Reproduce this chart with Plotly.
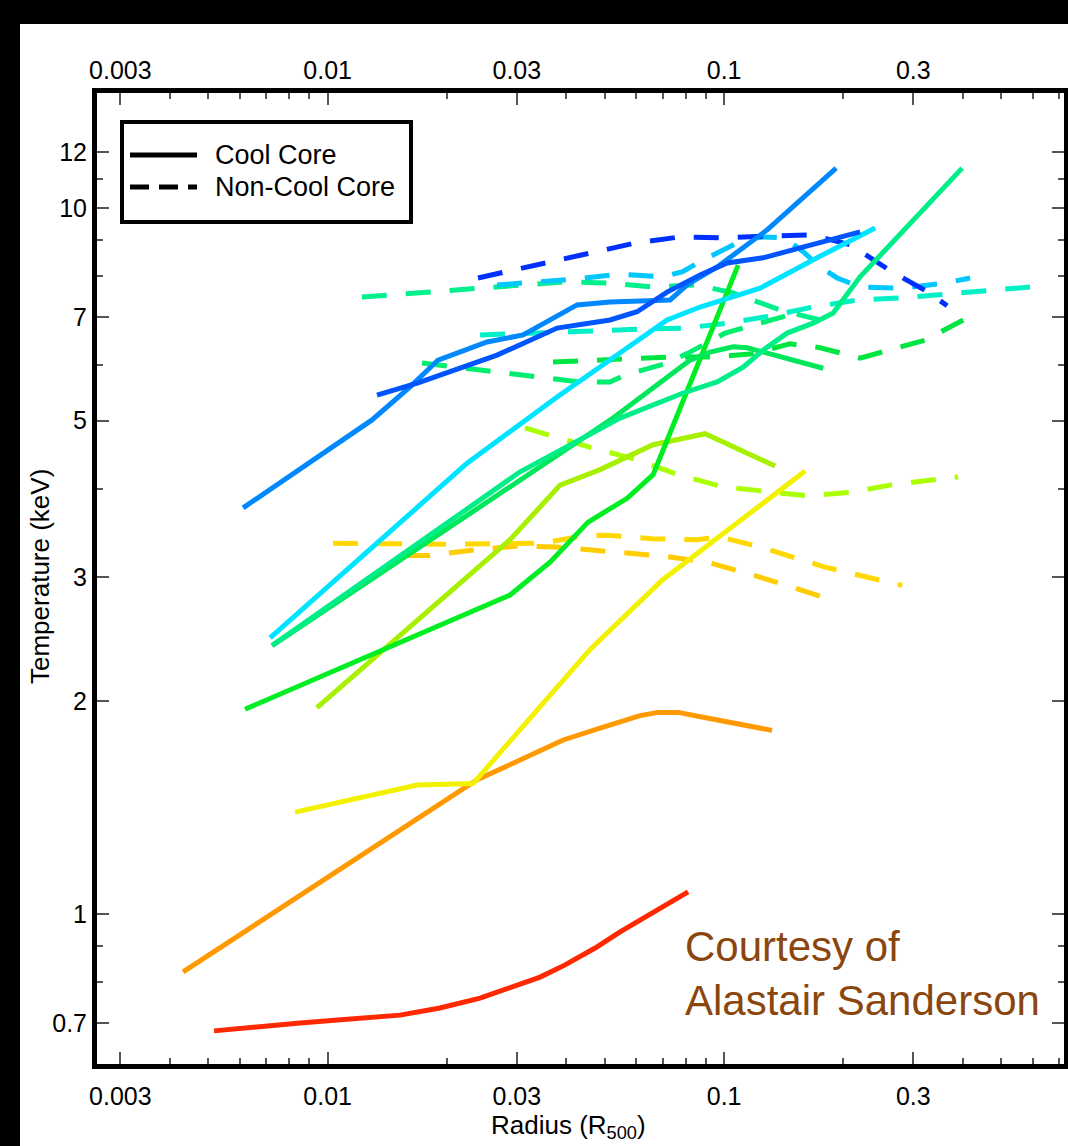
import plotly.graph_objects as go

# ---------------- data (radius in R500, temperature in keV) ----------------
red_x = [0.00517, 0.00852, 0.01523, 0.0192, 0.02424, 0.02971, 0.03435, 0.03972, 0.04727, 0.05466, 0.06506, 0.08114]
red_y = [0.683, 0.701, 0.719, 0.736, 0.760, 0.791, 0.814, 0.847, 0.895, 0.943, 1.0, 1.075]

orange_x = [0.00432, 0.02382, 0.03059, 0.03926, 0.04866, 0.06139, 0.06816, 0.07656, 0.0906, 0.1321]
orange_y = [0.828, 1.55, 1.652, 1.764, 1.834, 1.91, 1.93, 1.93, 1.895, 1.82]

yellow_x = [0.00828, 0.01683, 0.02327, 0.04592, 0.06977, 0.1601]
yellow_y = [1.394, 1.523, 1.53, 2.37, 2.97, 4.24]

ygreen_x = [0.0094, 0.02885, 0.03858, 0.04866, 0.06621, 0.08956, 0.1345]
ygreen_y = [1.96, 3.39, 4.05, 4.26, 4.62, 4.79, 4.31]

green_x = [0.00619, 0.02885, 0.03639, 0.04539, 0.05693, 0.06621, 0.1085]
green_y = [1.95, 2.83, 3.15, 3.59, 3.88, 4.19, 8.30]

g1_x = [0.00724, 0.05248, 0.08213, 0.0922, 0.1054, 0.1143, 0.1284, 0.1778]
g1_y = [2.40, 5.04, 6.09, 6.25, 6.36, 6.34, 6.23, 5.93]

g2_x = [0.00724, 0.03059, 0.05466, 0.07882, 0.09602, 0.1117, 0.1254, 0.1442, 0.1677, 0.1884, 0.2203, 0.2376, 0.2895, 0.3985]
g2_y = [2.40, 4.23, 5.04, 5.47, 5.67, 5.95, 6.29, 6.65, 6.87, 7.10, 7.99, 8.36, 9.40, 11.39]

cyan_x = [0.00716, 0.02247, 0.03791, 0.05157, 0.0718, 0.087, 0.1233, 0.1717, 0.2404]
cyan_y = [2.46, 4.35, 5.40, 6.09, 6.94, 7.24, 7.70, 8.50, 9.37]

lblue_x = [0.00612, 0.01294, 0.01614, 0.01899, 0.02524, 0.03112, 0.04258, 0.05157, 0.07309, 0.08067, 0.09602, 0.1284, 0.1917]
lblue_y = [3.76, 5.01, 5.58, 6.09, 6.46, 6.61, 7.29, 7.36, 7.41, 7.78, 8.25, 9.31, 11.39]

blue_x = [0.01332, 0.01683, 0.02675, 0.03791, 0.05157, 0.06033, 0.0718, 0.087, 0.1018, 0.1254, 0.1555, 0.2203]
blue_y = [5.43, 5.65, 6.19, 6.76, 6.94, 7.13, 7.60, 8.04, 8.36, 8.50, 8.78, 9.25]

# non-cool-core (dashed)
d1_x = [0.02395, 0.03597, 0.04645, 0.05964, 0.07745, 0.09943, 0.1306, 0.1667, 0.208, 0.2653, 0.327, 0.3653]
d1_y = [7.96, 8.36, 8.64, 8.92, 9.10, 9.07, 9.13, 9.16, 8.87, 8.12, 7.60, 7.27]

d2_x = [0.02675, 0.03241, 0.04213, 0.05466, 0.07018, 0.07836, 0.08851, 0.1117, 0.1254, 0.1425, 0.1583, 0.1747, 0.1928, 0.2203, 0.2813, 0.361, 0.4174]
d2_y = [7.78, 7.83, 7.93, 8.06, 7.99, 8.12, 8.44, 9.01, 9.10, 9.07, 8.67, 8.25, 7.96, 7.73, 7.70, 7.83, 7.96]

d3_x = [0.0122, 0.02382, 0.03059, 0.03972, 0.05157, 0.06621, 0.08549, 0.1054, 0.1385, 0.1747]
d3_y = [7.48, 7.70, 7.80, 7.86, 7.83, 7.73, 7.78, 7.58, 7.17, 6.94]

d4_x = [0.02424, 0.03682, 0.0481, 0.06211, 0.07975, 0.1023, 0.1306, 0.1677, 0.2178, 0.2813, 0.361, 0.4607, 0.5916]
d4_y = [6.61, 6.65, 6.70, 6.74, 6.76, 6.87, 7.03, 7.24, 7.41, 7.46, 7.55, 7.65, 7.73]

d5a_x = [0.03703, 0.05157, 0.07309, 0.0938, 0.1163, 0.1467, 0.1747, 0.2203, 0.2548, 0.3218, 0.4009]
d5a_y = [6.05, 6.11, 6.15, 6.15, 6.21, 6.42, 6.34, 6.13, 6.27, 6.50, 6.94]

d5b_x = [0.0173, 0.02614, 0.03395, 0.04333, 0.05157, 0.05628, 0.0718, 0.08114, 0.1006, 0.1143, 0.1467]
d5b_y = [6.03, 5.86, 5.76, 5.67, 5.67, 5.80, 6.03, 6.23, 6.65, 6.78, 7.06]

d6_x = [0.03148, 0.04672, 0.06033, 0.07656, 0.09884, 0.1269, 0.1629, 0.2116, 0.2617, 0.3467, 0.3894]
d6_y = [4.88, 4.57, 4.40, 4.19, 4.03, 3.97, 3.91, 3.96, 4.05, 4.13, 4.16]

d7a_x = [0.01032, 0.02012, 0.03435, 0.04409, 0.05068, 0.06583, 0.08549, 0.0977, 0.1233, 0.1798, 0.2813]
d7a_y = [3.35, 3.34, 3.35, 3.43, 3.44, 3.40, 3.39, 3.42, 3.31, 3.10, 2.92]

d7b_x = [0.01568, 0.01811, 0.02354, 0.03023, 0.03791, 0.04333, 0.05466, 0.071, 0.0906, 0.1163, 0.1467, 0.1884]
d7b_y = [3.22, 3.22, 3.28, 3.32, 3.31, 3.29, 3.25, 3.21, 3.15, 3.03, 2.91, 2.78]

x_ticks = [0.003, 0.01, 0.03, 0.1, 0.3]
x_ticktext = ["0.003", "0.01", "0.03", "0.1", "0.3"]
x_minor = [0.004, 0.005, 0.006, 0.007, 0.008, 0.009, 0.02, 0.04, 0.05, 0.06, 0.07, 0.08, 0.09, 0.2, 0.4, 0.5, 0.6, 0.7]
y_ticks = [0.7, 1, 2, 3, 5, 7, 10, 12]
y_ticktext = ["0.7", "1", "2", "3", "5", "7", "10", "12"]
y_minor = [0.8, 0.9, 4, 6, 8, 9, 11]

solid = [
    (red_x, red_y, "#ff2800"),
    (orange_x, orange_y, "#ff9900"),
    (yellow_x, yellow_y, "#f2f200"),
    (ygreen_x, ygreen_y, "#a6f000"),
    (green_x, green_y, "#00ee22"),
    (g1_x, g1_y, "#00e85a"),
    (g2_x, g2_y, "#00ee88"),
    (cyan_x, cyan_y, "#00e5ff"),
    (lblue_x, lblue_y, "#0088ff"),
    (blue_x, blue_y, "#0055ff"),
]
dashed = [
    (d7b_x, d7b_y, "#ffcc00"),
    (d7a_x, d7a_y, "#ffd800"),
    (d6_x, d6_y, "#aaff00"),
    (d5a_x, d5a_y, "#00e640"),
    (d5b_x, d5b_y, "#00ee70"),
    (d4_x, d4_y, "#00f0c8"),
    (d3_x, d3_y, "#00f08c"),
    (d2_x, d2_y, "#00c8ff"),
    (d1_x, d1_y, "#0030ff"),
]

fig = go.Figure()
for xs, ys, c in dashed:
    fig.add_trace(go.Scatter(x=xs, y=ys, mode="lines", showlegend=False, hoverinfo="skip",
                             line=dict(color=c, width=5, dash="25px,19px")))
for xs, ys, c in solid:
    fig.add_trace(go.Scatter(x=xs, y=ys, mode="lines", showlegend=False, hoverinfo="skip",
                             line=dict(color=c, width=5)))
# empty trace to activate the top axis
fig.add_trace(go.Scatter(x=[], y=[], xaxis="x2", showlegend=False))

TICKFONT = dict(family="Liberation Sans, Arial", size=25, color="black")
TITLEFONT = dict(family="Liberation Sans, Arial", size=26, color="black")
XR = [-2.5817, -0.1427]
YR = [-0.2125, 1.1629]

fig.update_layout(
    width=1068, height=1146,
    margin=dict(l=97, r=4, t=93, b=82, autoexpand=False),
    paper_bgcolor="white", plot_bgcolor="white",
    showlegend=False,
    xaxis=dict(type="log", range=XR, tickmode="array", tickvals=x_ticks, ticktext=x_ticktext,
               ticks="inside", ticklen=12, tickwidth=1.5, tickcolor="#555", automargin=False,
               showline=True, linewidth=5, linecolor="black", mirror="ticks", ticklabelstandoff=6,
               showgrid=False, zeroline=False, tickfont=TICKFONT,
               minor=dict(tickvals=x_minor, ticks="inside", ticklen=6, tickwidth=1.5, tickcolor="#555", showgrid=False)),
    xaxis2=dict(type="log", range=XR, overlaying="x", side="top", tickmode="array", automargin=False,
                tickvals=x_ticks, ticktext=x_ticktext, ticks="", showline=False, ticklabelstandoff=8,
                showgrid=False, zeroline=False, tickfont=TICKFONT),
    yaxis=dict(type="log", range=YR, tickmode="array", tickvals=y_ticks, ticktext=y_ticktext,
               ticks="inside", ticklen=12, tickwidth=1.5, tickcolor="#555", automargin=False,
               showline=True, linewidth=5, linecolor="black", mirror="ticks",
               showgrid=False, zeroline=False, tickfont=TICKFONT,
               minor=dict(tickvals=y_minor, ticks="inside", ticklen=6, tickwidth=1.5, tickcolor="#555", showgrid=False)),
)

# plot-area helpers (paper coords)
L, T, W, H = 97, 93, 967, 971
def px(x): return (x - L) / W
def py(y): return (T + H - y) / H

shapes = []
# legend box
shapes.append(dict(type="rect", xref="paper", yref="paper", x0=px(122), x1=px(411), y0=py(222), y1=py(122),
                   line=dict(color="black", width=4), fillcolor="white"))
shapes.append(dict(type="line", xref="paper", yref="paper", x0=px(130), x1=px(197), y0=py(155), y1=py(155),
                   line=dict(color="black", width=5)))
shapes.append(dict(type="line", xref="paper", yref="paper", x0=px(130), x1=px(197), y0=py(187), y1=py(187),
                   line=dict(color="black", width=5, dash="19px,10px")))
# black outer bands
shapes.append(dict(type="rect", xref="paper", yref="paper", x0=px(0), x1=px(20), y0=py(1146), y1=py(0),
                   line=dict(width=0), fillcolor="black", layer="above"))
shapes.append(dict(type="rect", xref="paper", yref="paper", x0=px(0), x1=px(1068), y0=py(24), y1=py(0),
                   line=dict(width=0), fillcolor="black", layer="above"))
fig.update_layout(shapes=shapes)

LEGFONT = dict(family="Liberation Sans, Arial", size=27, color="black")
ann = [
    dict(text="Cool Core", x=px(213), y=py(155), xanchor="left", yanchor="middle", font=LEGFONT),
    dict(text="Non-Cool Core", x=px(213), y=py(187), xanchor="left", yanchor="middle", font=LEGFONT),
    dict(text="Courtesy of", x=px(683), y=py(946), xanchor="left", yanchor="middle",
         font=dict(family="Liberation Sans, Arial", size=42, color="#8b460e")),
    dict(text="Alastair Sanderson", x=px(683), y=py(1000), xanchor="left", yanchor="middle",
         font=dict(family="Liberation Sans, Arial", size=42, color="#8b460e")),
    dict(text="Temperature (keV)", x=px(40), y=py(577), xanchor="center", yanchor="middle", textangle=-90,
         font=TITLEFONT),
    dict(text="Radius (R<sub>500</sub>)", x=px(568), y=py(1126), xanchor="center", yanchor="middle",
         font=TITLEFONT),
]
for a in ann:
    a.update(xref="paper", yref="paper", showarrow=False)
fig.update_layout(annotations=ann)

fig.write_html("out.html", config={"displayModeBar": False},
               post_script="document.body.style.margin='0';document.body.style.overflow='hidden';")
